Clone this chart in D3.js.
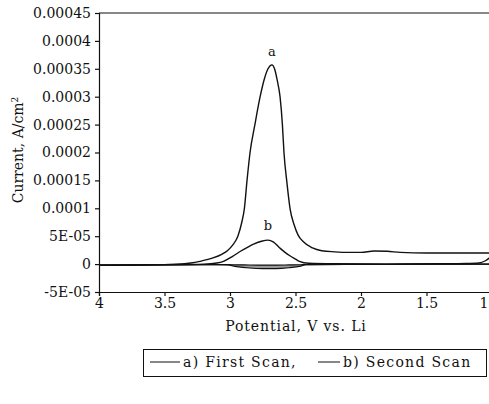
<!DOCTYPE html>
<html>
<head>
<meta charset="UTF-8">
<title>CV</title>
<script src="https://d3js.org/d3.v7.min.js"></script>
<style>
  * { margin: 0; padding: 0; }
  body { background: #fff; }
  text { font-family: "DejaVu Serif", "Liberation Serif", serif; fill: #111; }
</style>
</head>
<body>
<div id="chart"></div>
<script>
  // forward scan a (first scan): potential V, current A/cm2
  const scanA_V = [4.0, 3.8, 3.6, 3.4, 3.3, 3.23, 3.13, 3.06, 3.02, 2.98, 2.94, 2.91, 2.89, 2.87, 2.847, 2.81, 2.77, 2.74, 2.71, 2.68, 2.66, 2.64, 2.618, 2.6, 2.588, 2.565, 2.542, 2.51, 2.48, 2.44, 2.37, 2.3, 2.2, 2.1, 2.0, 1.9, 1.8, 1.7, 1.5, 1.3, 1.1, 1.0];
  const scanA_I = [-2e-6, -1.5e-6, -1e-6, 0, 2e-6, 5e-6, 1.1e-5, 1.8e-5, 2.4e-5, 3.4e-5, 5e-5, 7.5e-5, 1.0e-4, 1.5e-4, 2.0e-4, 2.5e-4, 3.0e-4, 3.3e-4, 3.5e-4, 3.57e-4, 3.5e-4, 3.3e-4, 3.0e-4, 2.5e-4, 2.0e-4, 1.45e-4, 1.0e-4, 7e-5, 5.2e-5, 4.0e-5, 2.9e-5, 2.4e-5, 2.2e-5, 2.1e-5, 2.1e-5, 2.35e-5, 2.3e-5, 2.1e-5, 2.0e-5, 2.0e-5, 2.0e-5, 2.0e-5];

  // forward scan b (second scan)
  const scanB_V = [4.0, 3.5, 3.2, 3.1, 3.05, 2.98, 2.92, 2.86, 2.82, 2.76, 2.71, 2.67, 2.62, 2.58, 2.54, 2.5, 2.47, 2.4, 2.2, 1.8, 1.4, 1.2, 1.1, 1.05, 1.0];
  const scanB_I = [-2e-6, -1e-6, 0, 2e-6, 5e-6, 1.4e-5, 2.3e-5, 3.1e-5, 3.6e-5, 4.1e-5, 4.3e-5, 4.0e-5, 2.9e-5, 2.1e-5, 1.45e-5, 9e-6, 5e-6, 1.5e-6, 0.5e-6, 0, 0.5e-6, 1e-6, 2e-6, 6e-6, 1.5e-5];

  // reverse scans (small cathodic dip, shaded between the two)
  const revV = [1.0, 2.0, 2.42, 2.46, 2.55, 2.65, 2.75, 2.85, 2.95, 3.02, 3.1, 3.5, 4.0];
  const revUpperI = [0, -0.5e-6, -1e-6, -1.2e-6, -1.5e-6, -1.8e-6, -1.8e-6, -1.6e-6, -1.3e-6, -1e-6, -1e-6, -1.5e-6, -2e-6];
  const revLowerI = [0, -0.5e-6, -1e-6, -3.5e-6, -6.5e-6, -8e-6, -8e-6, -7e-6, -4.5e-6, -1.5e-6, -1e-6, -1.5e-6, -2e-6];

  const yTicks = [4.5e-4, 4e-4, 3.5e-4, 3e-4, 2.5e-4, 2e-4, 1.5e-4, 1e-4, 5e-5, 0, -5e-5];
  const yTickLabels = ["0.00045", "0.0004", "0.00035", "0.0003", "0.00025", "0.0002", "0.00015", "0.0001", "5E-05", "0", "-5E-05"];
  const xTicks = [4, 3.5, 3, 2.5, 2, 1.5, 1];
  const xTickLabels = ["4", "3.5", "3", "2.5", "2", "1.5", "1"];

  const W = 489, H = 404;
  const plotL = 99, plotT = 13, plotB = 292, plotR = 492;

  const svg = d3.select("#chart").append("svg")
    .attr("width", W).attr("height", H);

  const x = d3.scaleLinear().domain([4, 1]).range([plotL, plotR]);
  const y = d3.scaleLinear().domain([-5e-5, 4.5e-4]).range([plotB, plotT]);

  // frame: top border
  svg.append("line")
    .attr("x1", plotL).attr("x2", plotR).attr("y1", plotT).attr("y2", plotT)
    .attr("stroke", "#111").attr("stroke-width", 1.2);

  // y axis
  const yAxis = svg.append("g")
    .attr("transform", `translate(${plotL},0)`)
    .call(d3.axisLeft(y).tickValues(yTicks).tickSize(4).tickPadding(4)
      .tickFormat((d, i) => yTickLabels[i]));
  yAxis.selectAll("path, line").attr("stroke", "#111").attr("stroke-width", 1.2);
  yAxis.selectAll("text").style("font-size", "14px").style("font-family", "DejaVu Serif");

  // x axis
  const xAxis = svg.append("g")
    .attr("transform", `translate(0,${plotB})`)
    .call(d3.axisBottom(x).tickValues(xTicks).tickSize(4).tickPadding(2)
      .tickFormat((d, i) => xTickLabels[i]));
  xAxis.selectAll("path, line").attr("stroke", "#111").attr("stroke-width", 1.2);
  xAxis.selectAll("text").style("font-size", "14px").style("font-family", "DejaVu Serif");
  // last label sits at the cut edge; keep it inside the picture
  xAxis.selectAll("text").filter(d => d === 1)
    .attr("text-anchor", "end").attr("dx", "-4");

  const toPts = (vs, is) => vs.map((v, i) => [v, is[i]]);
  const line = d3.line()
    .x(d => x(d[0])).y(d => y(d[1]))
    .curve(d3.curveMonotoneX);

  // shaded reverse-scan region
  const rev = revV.map((v, i) => ({v, hi: revUpperI[i], lo: revLowerI[i]}));
  svg.append("path")
    .datum(rev)
    .attr("d", d3.area().x(d => x(d.v)).y0(d => y(d.lo)).y1(d => y(d.hi))
      .curve(d3.curveMonotoneX))
    .attr("fill", "#999").attr("stroke", "none");
  svg.append("path").datum(toPts(revV, revUpperI)).attr("d", line)
    .attr("fill", "none").attr("stroke", "#111").attr("stroke-width", 1.2);
  svg.append("path").datum(toPts(revV, revLowerI)).attr("d", line)
    .attr("fill", "none").attr("stroke", "#111").attr("stroke-width", 1.2);

  svg.append("path").datum(toPts(scanB_V, scanB_I)).attr("d", line)
    .attr("fill", "none").attr("stroke", "#111").attr("stroke-width", 1.4);
  svg.append("path").datum(toPts(scanA_V, scanA_I)).attr("d", line)
    .attr("fill", "none").attr("stroke", "#111").attr("stroke-width", 1.4);

  // peak labels
  svg.append("text").attr("x", x(2.68)).attr("y", y(3.57e-4) - 9)
    .attr("text-anchor", "middle").style("font-size", "13px").text("a");
  svg.append("text").attr("x", x(2.71)).attr("y", y(4.3e-5) - 10)
    .attr("text-anchor", "middle").style("font-size", "13px").text("b");

  // axis titles
  svg.append("text")
    .attr("x", 296).attr("y", 331)
    .attr("text-anchor", "middle").style("font-size", "14px")
    .style("letter-spacing", "0.9px")
    .text("Potential, V vs. Li");

  svg.append("text")
    .attr("transform", "translate(23,150) rotate(-90)")
    .attr("text-anchor", "middle").style("font-size", "14px")
    .html('Current, A/cm<tspan dy="-5" font-size="9px">2</tspan>');

  // legend
  const lg = svg.append("g");
  lg.append("rect").attr("x", 143.5).attr("y", 349.5).attr("width", 343).attr("height", 27)
    .attr("fill", "none").attr("stroke", "#111").attr("stroke-width", 1);
  const items = ["a) First Scan,", "b) Second Scan"];
  const itemX = [150, 318];
  const itemLen = [30, 22];
  items.forEach((t, i) => {
    lg.append("line").attr("x1", itemX[i]).attr("x2", itemX[i] + itemLen[i])
      .attr("y1", 362).attr("y2", 362).attr("stroke", "#111").attr("stroke-width", 1);
    lg.append("text").attr("x", itemX[i] + itemLen[i] + 3).attr("y", 367)
      .style("font-size", "14px").style("letter-spacing", "1.3px").text(t);
  });
</script>
</body>
</html>
